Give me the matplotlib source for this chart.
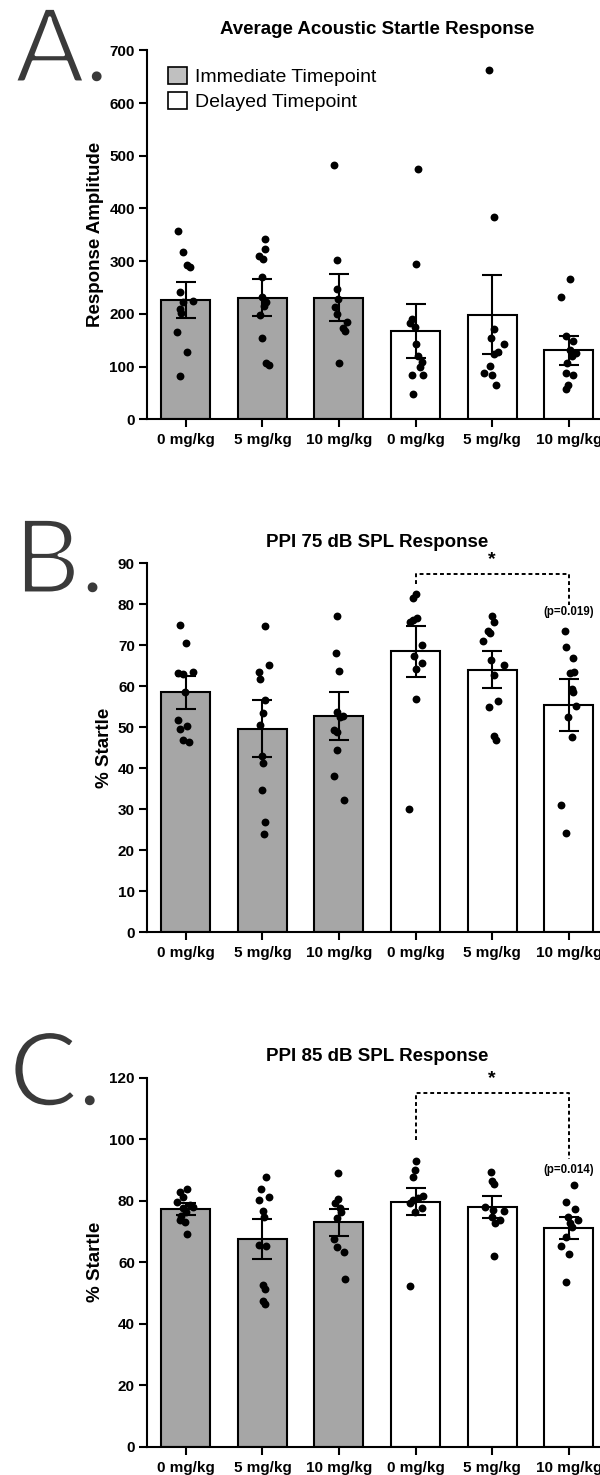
import numpy as np
import matplotlib.pyplot as plt
import matplotlib.patheffects as pe
from matplotlib.patches import Patch

plt.rcParams['font.family'] = ['Liberation Sans', 'DejaVu Sans']

doses = ["0 mg/kg", "5 mg/kg", "10 mg/kg", "0 mg/kg", "5 mg/kg", "10 mg/kg"]
timepoint = ["Immediate", "Immediate", "Immediate", "Delayed", "Delayed", "Delayed"]

# ---- Panel A: average acoustic startle response ----
asr_mean = [227, 231, 231, 167, 198, 131]
asr_sem = [34, 35, 44, 51, 75, 28]
asr_pts = [
    [358, 317, 292, 289, 242, 225, 222, 210, 201, 166, 127, 83],
    [343, 324, 309, 304, 270, 232, 223, 215, 197, 155, 106, 104],
    [482, 302, 247, 229, 214, 200, 185, 173, 168, 107],
    [474, 295, 190, 182, 175, 143, 121, 108, 100, 85, 85, 49],
    [663, 384, 171, 154, 142, 127, 123, 102, 87, 84, 66],
    [267, 233, 158, 149, 132, 125, 121, 106, 87, 84, 65, 58],
]
asr_jit = [
    [-0.10, -0.03, 0.02, 0.06, -0.08, 0.09, -0.03, -0.08, -0.06, -0.11, 0.01, -0.07],
    [0.03, 0.04, -0.04, 0.01, -0.01, 0.00, 0.05, 0.02, -0.03, 0.00, 0.05, 0.09],
    [-0.07, -0.03, -0.02, -0.01, -0.05, -0.02, 0.10, 0.05, 0.08, 0.00],
    [0.03, 0.00, -0.05, -0.07, -0.01, 0.01, 0.03, 0.08, 0.06, -0.05, 0.10, -0.04],
    [-0.04, 0.02, 0.03, -0.01, 0.16, 0.08, 0.03, -0.03, -0.11, 0.00, 0.05],
    [0.02, -0.10, -0.03, 0.06, 0.02, 0.10, 0.04, -0.02, -0.04, 0.06, -0.01, -0.03],
]

# ---- Panel B: PPI 75 dB ----
ppi75_mean = [58.5, 49.7, 52.8, 68.5, 64.1, 55.4]
ppi75_sem = [4.1, 6.9, 5.9, 6.2, 4.6, 6.4]
ppi75_pts = [
    [75.0, 70.6, 63.2, 63.0, 63.6, 58.5, 51.8, 50.3, 49.6, 46.9, 46.3],
    [74.8, 65.3, 63.6, 61.7, 56.7, 53.6, 50.5, 43.1, 41.2, 34.8, 27.0, 24.1],
    [77.2, 68.1, 63.7, 53.7, 52.7, 52.5, 49.3, 48.8, 44.4, 38.1, 32.2],
    [82.5, 81.5, 76.6, 76.2, 75.7, 70.1, 67.5, 65.6, 64.2, 56.8, 30.1],
    [77.2, 75.8, 73.5, 73.1, 71.1, 66.4, 65.3, 62.7, 56.3, 55.0, 47.9, 46.9],
    [73.5, 69.6, 67.0, 63.4, 63.3, 59.3, 58.6, 55.2, 52.6, 47.6, 31.1, 24.3],
]
ppi75_jit = [
    [-0.08, 0.00, -0.10, -0.03, 0.09, -0.01, -0.10, 0.02, -0.08, -0.03, 0.04],
    [0.04, 0.09, -0.05, -0.03, 0.04, 0.01, -0.03, 0.00, 0.01, 0.00, 0.03, 0.02],
    [-0.02, -0.04, 0.00, -0.02, 0.05, 0.01, -0.07, -0.02, -0.02, -0.07, 0.07],
    [0.00, -0.04, 0.02, -0.03, -0.07, 0.08, -0.02, 0.09, 0.01, 0.00, -0.08],
    [0.00, 0.03, -0.05, -0.03, -0.12, -0.02, 0.15, 0.03, 0.08, -0.04, 0.02, 0.05],
    [-0.05, -0.04, 0.06, 0.07, 0.02, 0.04, 0.06, 0.10, -0.01, 0.04, -0.10, -0.04],
]

# ---- Panel C: PPI 85 dB ----
ppi85_mean = [77.2, 67.6, 73.0, 79.7, 78.0, 71.1]
ppi85_sem = [1.9, 6.5, 4.4, 4.4, 3.5, 3.6]
ppi85_pts = [
    [83.7, 82.9, 81.3, 79.7, 78.5, 77.8, 77.5, 76.4, 75.0, 73.7, 73.0, 69.2],
    [87.6, 83.7, 81.3, 80.1, 76.7, 74.8, 65.6, 65.4, 52.7, 51.3, 47.5, 46.4],
    [89.1, 80.4, 79.1, 77.5, 76.4, 74.5, 67.4, 64.8, 63.2, 54.4],
    [92.9, 89.9, 87.6, 81.6, 80.8, 80.2, 79.1, 77.5, 76.4, 52.4],
    [89.3, 86.5, 85.4, 77.8, 76.6, 77.0, 74.8, 73.7, 72.6, 62.1],
    [85.1, 79.7, 77.3, 74.8, 73.7, 72.6, 71.5, 68.3, 65.4, 62.5, 53.7],
]
ppi85_jit = [
    [0.02, -0.08, -0.03, -0.11, 0.05, 0.10, -0.03, 0.00, -0.06, -0.08, -0.01, 0.02],
    [0.05, -0.02, 0.09, -0.04, 0.01, 0.02, -0.04, 0.05, 0.01, 0.04, 0.01, 0.03],
    [-0.01, -0.01, -0.05, 0.01, 0.03, -0.02, -0.06, -0.02, 0.06, 0.08],
    [0.01, -0.01, -0.04, 0.10, 0.03, -0.03, -0.07, 0.08, -0.01, -0.07],
    [-0.02, 0.00, 0.03, -0.10, 0.16, 0.01, 0.00, 0.10, 0.04, 0.02],
    [0.07, -0.03, 0.08, -0.01, 0.12, 0.02, 0.04, -0.03, -0.10, 0.00, -0.03],
]

# significance brackets: (left y, top y, right y, p text, p text y)
ppi75_sig = (84.9, 87.3, 79.8, "(p=0.019)", 78.1)
ppi85_sig = (99.7, 114.9, 93.4, "(p=0.014)", 90.0)

panels = [
    dict(letter="A.", title="Average Acoustic Startle Response", ylabel="Response Amplitude",
         mean=asr_mean, sem=asr_sem, pts=asr_pts, jit=asr_jit, ymax=700, step=100,
         bottom=0.7157, labx=-0.094, sig=None, letx=15, lety=82),
    dict(letter="B.", title="PPI 75 dB SPL Response", ylabel="% Startle",
         mean=ppi75_mean, sem=ppi75_sem, pts=ppi75_pts, jit=ppi75_jit, ymax=90, step=10,
         bottom=0.3679, labx=-0.074, sig=ppi75_sig, letx=14, lety=593),
    dict(letter="C.", title="PPI 85 dB SPL Response", ylabel="% Startle",
         mean=ppi85_mean, sem=ppi85_sem, pts=ppi85_pts, jit=ppi85_jit, ymax=120, step=20,
         bottom=0.0192, labx=-0.094, sig=ppi85_sig, letx=9, lety=1106),
]

fill = {"Immediate": "#a6a6a6", "Delayed": "white"}

fig = plt.figure(figsize=(6, 14.75), dpi=100)
x = np.arange(len(doses))

for p in panels:
    ax = fig.add_axes([0.2458, p["bottom"], 0.766, 0.2502])
    ax.bar(x, p["mean"], width=0.64, color=[fill[t] for t in timepoint],
           edgecolor="black", linewidth=1.5, zorder=2)
    for i in range(len(doses)):
        ax.scatter(i + np.array(p["jit"][i]), p["pts"][i], s=32, color="black",
                   zorder=3, clip_on=False, linewidths=0)
    ax.errorbar(x, p["mean"], yerr=p["sem"], fmt="none", ecolor="black",
                elinewidth=1.5, capsize=7.5, capthick=1.5, zorder=4)

    ax.set_xlim(-0.5, 5.5)
    ax.set_ylim(0, p["ymax"])
    ax.set_yticks(np.arange(0, p["ymax"] + 1, p["step"]))
    ax.set_xticks(x)
    ax.set_xticklabels(doses)
    for s in ["top", "right"]:
        ax.spines[s].set_visible(False)
    for s in ["left", "bottom"]:
        ax.spines[s].set_linewidth(1.5)
    ax.tick_params(axis="both", length=6, width=1.5, labelsize=11)
    ax.tick_params(axis="x", pad=4)
    ax.tick_params(axis="y", pad=3)
    for lab in ax.get_xticklabels() + ax.get_yticklabels():
        lab.set_fontweight("bold")
    ax.set_title(p["title"], fontsize=13.5, fontweight="bold", pad=12)
    ax.set_ylabel(p["ylabel"], fontsize=13.5, fontweight="bold")
    ax.yaxis.set_label_coords(p["labx"], 0.5)

    if p["sig"] is not None:
        yl, yt, yr, ptxt, py = p["sig"]
        ax.plot([3, 3, 5, 5], [yl, yt, yt, yr], color="black", lw=1.4,
                ls=(0, (2, 1.5)), clip_on=False, zorder=5)
        ax.text(4, yt + p["ymax"] * 0.016, "*", ha="center", va="bottom",
                fontsize=14, fontweight="bold", clip_on=False)
        ax.text(5, py, ptxt, ha="center", va="center", fontsize=8.3, fontweight="bold")

    # big panel letter, thinned with a white outline stroke
    fig.text(p["letx"] / 600, 1 - p["lety"] / 1475, p["letter"], fontsize=74,
             family=["Lato", "DejaVu Sans"], fontweight="normal", color="#3a3a3a",
             va="baseline", ha="left",
             path_effects=[pe.Stroke(linewidth=2.2, foreground="white")])

    if p["letter"] == "A.":
        handles = [Patch(facecolor="#c0c0c0", edgecolor="black", linewidth=1.2),
                   Patch(facecolor="white", edgecolor="black", linewidth=1.2)]
        ax.legend(handles, ["Immediate Timepoint", "Delayed Timepoint"],
                  loc="upper left", bbox_to_anchor=(0.045, 0.954), frameon=False,
                  fontsize=14, handlelength=0.95, handleheight=0.95,
                  handletextpad=0.45, labelspacing=0.28, borderpad=0, borderaxespad=0)

fig.savefig("out.png", dpi=100)
